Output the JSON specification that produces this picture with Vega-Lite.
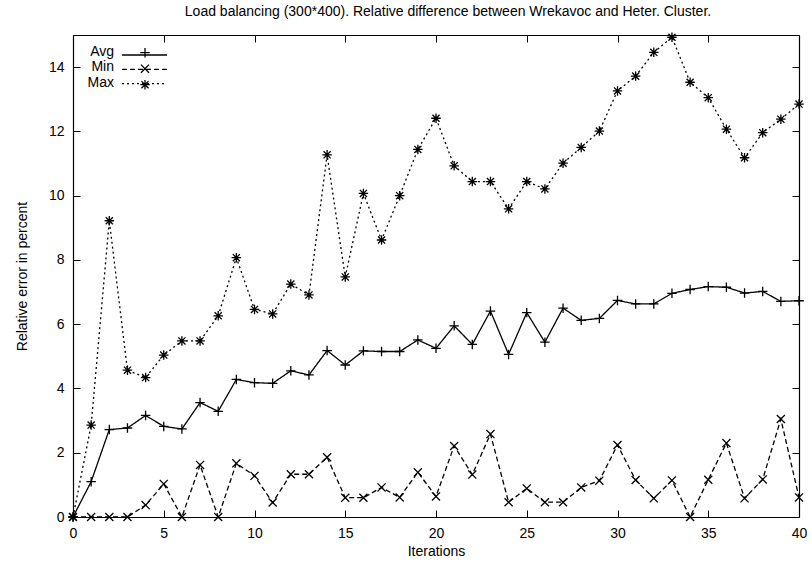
{
  "$schema": "https://vega.github.io/schema/vega-lite/v6.json",
  "width": 726,
  "height": 482,
  "autosize": {"type": "none"},
  "padding": {"left": 73, "top": 35, "right": 13, "bottom": 50},
  "background": "white",
  "title": {"text": "Load balancing (300*400). Relative difference between Wrekavoc and Heter. Cluster.", "font": "Liberation Sans", "fontSize": 14, "fontWeight": "normal", "color": "black", "anchor": "middle", "frame": "group", "offset": 11, "dx": 12},
  "config": {
    "view": {"stroke": null},
    "axis": {"domainColor": "black", "domainWidth": 1.2, "tickColor": "black", "tickWidth": 1, "tickSize": -7, "labelFont": "Liberation Sans", "labelFontSize": 14, "labelColor": "black", "titleFont": "Liberation Sans", "titleFontSize": 14, "titleFontWeight": "normal", "titleColor": "black", "grid": false, "labelPadding": 16, "labelFlush": false, "labelOverlap": false}
  },
  "datasets": {
    "d": [
      {"i":0,"s":"Avg","v":0},{"i":1,"s":"Avg","v":1.1},{"i":2,"s":"Avg","v":2.72},{"i":3,"s":"Avg","v":2.77},{"i":4,"s":"Avg","v":3.16},{"i":5,"s":"Avg","v":2.82},{"i":6,"s":"Avg","v":2.74},{"i":7,"s":"Avg","v":3.56},{"i":8,"s":"Avg","v":3.29},{"i":9,"s":"Avg","v":4.28},{"i":10,"s":"Avg","v":4.18},{"i":11,"s":"Avg","v":4.16},{"i":12,"s":"Avg","v":4.55},{"i":13,"s":"Avg","v":4.42},{"i":14,"s":"Avg","v":5.18},{"i":15,"s":"Avg","v":4.73},{"i":16,"s":"Avg","v":5.17},{"i":17,"s":"Avg","v":5.15},{"i":18,"s":"Avg","v":5.15},{"i":19,"s":"Avg","v":5.51},{"i":20,"s":"Avg","v":5.25},{"i":21,"s":"Avg","v":5.95},{"i":22,"s":"Avg","v":5.37},{"i":23,"s":"Avg","v":6.41},{"i":24,"s":"Avg","v":5.06},{"i":25,"s":"Avg","v":6.36},{"i":26,"s":"Avg","v":5.44},{"i":27,"s":"Avg","v":6.5},{"i":28,"s":"Avg","v":6.12},{"i":29,"s":"Avg","v":6.18},{"i":30,"s":"Avg","v":6.74},{"i":31,"s":"Avg","v":6.63},{"i":32,"s":"Avg","v":6.63},{"i":33,"s":"Avg","v":6.96},{"i":34,"s":"Avg","v":7.08},{"i":35,"s":"Avg","v":7.17},{"i":36,"s":"Avg","v":7.15},{"i":37,"s":"Avg","v":6.97},{"i":38,"s":"Avg","v":7.02},{"i":39,"s":"Avg","v":6.71},{"i":40,"s":"Avg","v":6.73},
      {"i":0,"s":"Min","v":0},{"i":1,"s":"Min","v":0},{"i":2,"s":"Min","v":0},{"i":3,"s":"Min","v":0},{"i":4,"s":"Min","v":0.37},{"i":5,"s":"Min","v":1.03},{"i":6,"s":"Min","v":0},{"i":7,"s":"Min","v":1.62},{"i":8,"s":"Min","v":0},{"i":9,"s":"Min","v":1.67},{"i":10,"s":"Min","v":1.28},{"i":11,"s":"Min","v":0.45},{"i":12,"s":"Min","v":1.33},{"i":13,"s":"Min","v":1.33},{"i":14,"s":"Min","v":1.86},{"i":15,"s":"Min","v":0.6},{"i":16,"s":"Min","v":0.6},{"i":17,"s":"Min","v":0.92},{"i":18,"s":"Min","v":0.61},{"i":19,"s":"Min","v":1.39},{"i":20,"s":"Min","v":0.64},{"i":21,"s":"Min","v":2.21},{"i":22,"s":"Min","v":1.32},{"i":23,"s":"Min","v":2.58},{"i":24,"s":"Min","v":0.46},{"i":25,"s":"Min","v":0.89},{"i":26,"s":"Min","v":0.46},{"i":27,"s":"Min","v":0.46},{"i":28,"s":"Min","v":0.92},{"i":29,"s":"Min","v":1.13},{"i":30,"s":"Min","v":2.24},{"i":31,"s":"Min","v":1.15},{"i":32,"s":"Min","v":0.58},{"i":33,"s":"Min","v":1.14},{"i":34,"s":"Min","v":0},{"i":35,"s":"Min","v":1.16},{"i":36,"s":"Min","v":2.3},{"i":37,"s":"Min","v":0.58},{"i":38,"s":"Min","v":1.17},{"i":39,"s":"Min","v":3.05},{"i":40,"s":"Min","v":0.61},
      {"i":0,"s":"Max","v":0},{"i":1,"s":"Max","v":2.86},{"i":2,"s":"Max","v":9.22},{"i":3,"s":"Max","v":4.57},{"i":4,"s":"Max","v":4.34},{"i":5,"s":"Max","v":5.04},{"i":6,"s":"Max","v":5.48},{"i":7,"s":"Max","v":5.48},{"i":8,"s":"Max","v":6.26},{"i":9,"s":"Max","v":8.07},{"i":10,"s":"Max","v":6.46},{"i":11,"s":"Max","v":6.32},{"i":12,"s":"Max","v":7.25},{"i":13,"s":"Max","v":6.91},{"i":14,"s":"Max","v":11.27},{"i":15,"s":"Max","v":7.47},{"i":16,"s":"Max","v":10.07},{"i":17,"s":"Max","v":8.62},{"i":18,"s":"Max","v":10.0},{"i":19,"s":"Max","v":11.44},{"i":20,"s":"Max","v":12.41},{"i":21,"s":"Max","v":10.93},{"i":22,"s":"Max","v":10.44},{"i":23,"s":"Max","v":10.44},{"i":24,"s":"Max","v":9.59},{"i":25,"s":"Max","v":10.44},{"i":26,"s":"Max","v":10.21},{"i":27,"s":"Max","v":11.01},{"i":28,"s":"Max","v":11.5},{"i":29,"s":"Max","v":12.01},{"i":30,"s":"Max","v":13.26},{"i":31,"s":"Max","v":13.72},{"i":32,"s":"Max","v":14.46},{"i":33,"s":"Max","v":14.93},{"i":34,"s":"Max","v":13.53},{"i":35,"s":"Max","v":13.05},{"i":36,"s":"Max","v":12.07},{"i":37,"s":"Max","v":11.18},{"i":38,"s":"Max","v":11.96},{"i":39,"s":"Max","v":12.38},{"i":40,"s":"Max","v":12.85}
    ]
  },
  "data": {"name": "d"},
  "layer": [
    {
      "mark": {"type": "line", "strokeWidth": 1.3},
      "encoding": {
        "x": {"field": "i", "type": "quantitative", "scale": {"domain": [0, 40], "nice": false, "zero": false}, "axis": {"orient": "bottom", "values": [0, 5, 10, 15, 20, 25, 30, 35, 40], "title": "Iterations", "titlePadding": 4}},
        "y": {"field": "v", "type": "quantitative", "scale": {"domain": [0, 15], "nice": false}, "axis": {"orient": "left", "values": [0, 2, 4, 6, 8, 10, 12, 14], "title": "Relative error in percent", "titlePadding": 19}},
        "color": {"field": "s", "type": "nominal", "sort": ["Avg", "Min", "Max"], "scale": {"range": ["black", "black", "black"]},
          "legend": {"title": null, "orient": "none", "legendX": 0, "legendY": 10, "padding": 0, "symbolOpacity": 0, "symbolSize": 1, "symbolOffset": -7, "rowPadding": 1.3, "labelAlign": "right", "labelOffset": 34, "labelFont": "Liberation Sans", "labelFontSize": 14, "labelColor": "black"}},
        "strokeDash": {"field": "s", "type": "nominal", "scale": {"domain": ["Avg", "Min", "Max"], "range": [[1, 0], [5, 3], [2, 3]]},
          "legend": {"title": null, "orient": "none", "legendX": 48, "legendY": 18.5, "padding": 0, "symbolType": "M-45,0H45", "symbolSize": 1, "symbolStrokeWidth": 1.3, "symbolStrokeColor": "black", "symbolFillColor": "transparent", "symbolOffset": 22, "rowPadding": 7.3, "labelExpr": "''", "labelFontSize": 1, "labelOpacity": 0}}
      }
    },
    {
      "mark": {"type": "point", "filled": false, "color": "black", "strokeWidth": 1.3, "opacity": 1, "size": 90},
      "encoding": {
        "x": {"field": "i", "type": "quantitative", "scale": {"domain": [0, 40], "nice": false, "zero": false}, "axis": {"orient": "top", "values": [0, 5, 10, 15, 20, 25, 30, 35, 40], "labels": false, "title": null}},
        "y": {"field": "v", "type": "quantitative", "scale": {"domain": [0, 15], "nice": false}, "axis": {"orient": "right", "values": [0, 2, 4, 6, 8, 10, 12, 14], "labels": false, "title": null}},
        "shape": {"field": "s", "type": "nominal", "scale": {"domain": ["Avg", "Min", "Max"], "range": ["M-1,0H1M0,-1V1", "M-0.85,-0.85L0.85,0.85M-0.85,0.85L0.85,-0.85", "M-1,0H1M0,-1V1M-0.75,-0.75L0.75,0.75M-0.75,0.75L0.75,-0.75"]},
          "legend": {"title": null, "orient": "top-left", "offset": 10, "padding": 0, "symbolSize": 90, "symbolStrokeWidth": 1.3, "symbolStrokeColor": "black", "symbolFillColor": "transparent", "clipHeight": 15.3, "rowPadding": 0, "symbolOffset": 56.5, "labelOpacity": 0, "labelFontSize": 10}}
      }
    }
  ],
  "resolve": {"axis": {"x": "independent", "y": "independent"}}
}
